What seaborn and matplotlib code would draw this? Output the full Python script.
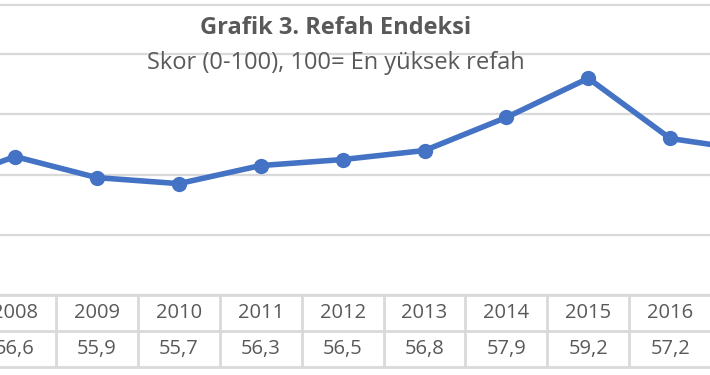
import matplotlib
matplotlib.use("Agg")
import matplotlib.pyplot as plt
import seaborn as sns
import pandas as pd

years = [2007, 2008, 2009, 2010, 2011, 2012, 2013, 2014, 2015, 2016, 2017]
values = [55.6, 56.6, 55.9, 55.7, 56.3, 56.5, 56.8, 57.9, 59.2, 57.2, 56.8]
labels = [f"{v:.1f}".replace(".", ",") for v in values]
yticks = [52, 54, 56, 58, 60]

sns.set_theme(style="white")
plt.rcParams['font.family'] = ['Open Sans', 'DejaVu Sans']

W, H = 710, 375
fig = plt.figure(figsize=(W / 100, H / 100), dpi=100)

grid_c = "#D9D9D9"
text_c = "#595959"
line_c = "#4472C4"

# x mapping: 2008 at px 15, 81.9 px per year
px_per_year = 81.9
x0 = 2008 - 15 / px_per_year
x1 = x0 + W / px_per_year

# main plot axes: px 5 (top) to 295 (bottom)
top_px, bot_px = 5, 295
ax = fig.add_axes([0, 1 - bot_px / H, 1, (bot_px - top_px) / H])
df = pd.DataFrame({"year": years, "value": values})
sns.lineplot(data=df, x="year", y="value", ax=ax, color=line_c, linewidth=4.0,
             marker="o", markersize=11, markeredgewidth=0, clip_on=True)
ax.set_xlim(x0, x1)
ax.set_ylim(52, 52 + (bot_px - top_px) / 30.1)
ax.set_yticks(yticks)
ax.set_xticks([])
ax.set_yticklabels([])
ax.set_xlabel("")
ax.set_ylabel("")
ax.tick_params(length=0)
ax.grid(axis="y", color=grid_c, linewidth=1.6)
ax.set_axisbelow(True)
for s in ["left", "right", "bottom"]:
    ax.spines[s].set_visible(False)
ax.spines["top"].set_color(grid_c)
ax.spines["top"].set_linewidth(1.6)

# table axes: px 295 to 367
t_top, t_bot = 295, 367
tax = fig.add_axes([0, 1 - t_bot / H, 1, (t_bot - t_top) / H])
tax.set_xlim(x0, x1)
tax.set_ylim(0, 2)
tax.axis("off")
for yy in [0, 1, 2]:
    tax.axhline(yy, color=grid_c, linewidth=2, clip_on=False)
for yr in years:
    tax.axvline(yr + 0.5, color=grid_c, linewidth=2)
for yr, lab in zip(years, labels):
    tax.text(yr, 1.5, str(yr), ha="center", va="center", fontsize=14.5,
             color=text_c, clip_on=True)
    tax.text(yr, 0.5, lab, ha="center", va="center", fontsize=14.5,
             color=text_c, clip_on=True)

fig.text(0.473, 1 - 28 / H, "Grafik 3. Refah Endeksi", ha="center", va="center",
         fontsize=17, fontweight="bold", color=text_c)
fig.text(0.473, 1 - 63 / H, "Skor (0-100), 100= En yüksek refah", ha="center",
         va="center", fontsize=17, color=text_c)

fig.savefig("out.png", dpi=100)
